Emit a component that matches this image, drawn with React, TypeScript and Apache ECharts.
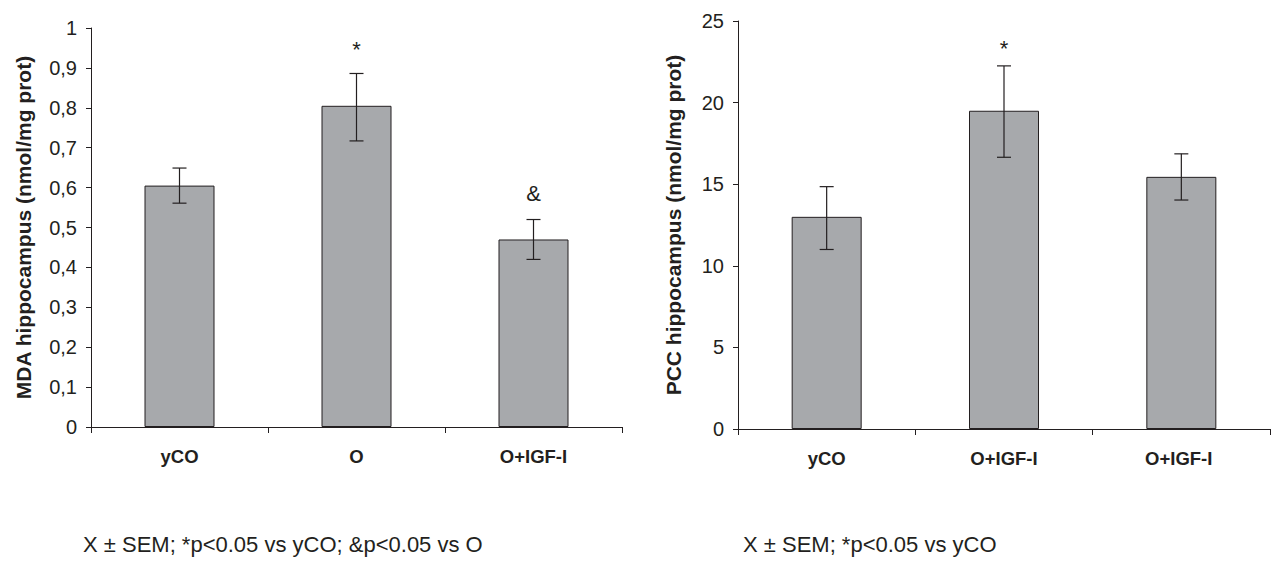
import React, { useEffect, useRef } from "react";
import * as echarts from "echarts";

const leftCategories = ["yCO", "O", "O+IGF-I"];
const leftMeans = [0.605, 0.805, 0.47];
const leftLow = [0.561, 0.717, 0.42];
const leftHigh = [0.649, 0.886, 0.52];
const leftMarks = ["", "*", "&"];
const leftMarkValues = [0, 0.947, 0.586];
const leftTicks = ["0", "0,1", "0,2", "0,3", "0,4", "0,5", "0,6", "0,7", "0,8", "0,9", "1"];

const rightCategories = ["yCO", "O+IGF-I", "O+IGF-I "];
const rightMeans = [13.0, 19.5, 15.45];
const rightLow = [11.0, 16.65, 14.03];
const rightHigh = [14.85, 22.25, 16.86];
const rightMarks = ["", "*", ""];
const rightMarkValues = [0, 23.3, 0];

const leftAxisName = "MDA hippocampus (nmol/mg prot)";
const rightAxisName = "PCC hippocampus (nmol/mg prot)";
const leftNote = "X ± SEM; *p<0.05 vs yCO; &p<0.05 vs O";
const rightNote = "X ± SEM; *p<0.05 vs yCO";

const INK = "#231f20";
const BAR = "#a7a9ac";
const FONT = "'Liberation Sans', Arial, sans-serif";

function errorRender(params: any, api: any) {
  const x = api.value(0);
  const lo = api.coord([x, api.value(1)]);
  const hi = api.coord([x, api.value(2)]);
  const half = 7;
  const style = { stroke: INK, lineWidth: 1.2 };
  return {
    type: "group",
    children: [
      { type: "line", shape: { x1: lo[0], y1: lo[1], x2: hi[0], y2: hi[1] }, style },
      { type: "line", shape: { x1: lo[0] - half, y1: lo[1], x2: lo[0] + half, y2: lo[1] }, style },
      { type: "line", shape: { x1: hi[0] - half, y1: hi[1], x2: hi[0] + half, y2: hi[1] }, style },
    ],
  };
}

function markRender(params: any, api: any) {
  const idx = params.dataIndex;
  const text = params.seriesIndex === 2 ? leftMarks[idx] : rightMarks[idx];
  if (!text) return null;
  const p = api.coord([api.value(0), api.value(1)]);
  return {
    type: "text",
    x: p[0],
    y: p[1],
    style: {
      text,
      fill: INK,
      font: `22px ${FONT}`,
      align: "center",
      verticalAlign: "middle",
    },
  };
}

export default function App() {
  const ref = useRef<HTMLDivElement>(null);
  useEffect(() => {
    if (!ref.current) return;
    const chart = echarts.init(ref.current, null, { renderer: "svg" });
    const axisLine = { show: true, lineStyle: { color: INK, width: 1 } };
    const yCommon = {
      type: "value",
      nameLocation: "middle",
      nameRotate: 90,
      nameTextStyle: { fontFamily: FONT, fontSize: 21, fontWeight: "bold", color: INK },
      axisLine,
      axisTick: { show: true, length: 5, lineStyle: { color: INK } },
      splitLine: { show: false },
      axisLabel: { fontFamily: FONT, fontSize: 20, color: INK, margin: 14 },
    };
    const xCommon = {
      type: "category",
      axisLine,
      axisTick: { show: true, length: 6, alignWithLabel: false, lineStyle: { color: INK } },
      axisLabel: { fontFamily: FONT, fontSize: 18.5, fontWeight: "bold", color: INK, margin: 20 },
    };
    chart.setOption({
      animation: false,
      backgroundColor: "#ffffff",
      grid: [
        { left: 91, top: 28, width: 531, height: 399 },
        { left: 738, top: 21, width: 532, height: 408 },
      ],
      xAxis: [
        { ...xCommon, gridIndex: 0, data: leftCategories },
        { ...xCommon, gridIndex: 1, data: rightCategories },
      ],
      yAxis: [
        {
          ...yCommon,
          gridIndex: 0,
          min: 0,
          max: 1,
          interval: 0.1,
          name: leftAxisName,
          nameGap: 57,
          axisLabel: {
            ...yCommon.axisLabel,
            formatter: (v: number) => leftTicks[Math.round(v * 10)],
          },
        },
        {
          ...yCommon,
          gridIndex: 1,
          min: 0,
          max: 25,
          interval: 5,
          name: rightAxisName,
          nameGap: 54,
        },
      ],
      series: [
        {
          type: "bar",
          xAxisIndex: 0,
          yAxisIndex: 0,
          data: leftMeans,
          barWidth: 70,
          itemStyle: { color: BAR, borderColor: INK, borderWidth: 1 },
        },
        {
          type: "custom",
          xAxisIndex: 0,
          yAxisIndex: 0,
          renderItem: errorRender,
          data: leftMeans.map((_, i) => [i, leftLow[i], leftHigh[i]]),
          z: 5,
        },
        {
          type: "custom",
          xAxisIndex: 0,
          yAxisIndex: 0,
          renderItem: markRender,
          data: leftMarkValues.map((v, i) => [i, v]),
          z: 6,
        },
        {
          type: "bar",
          xAxisIndex: 1,
          yAxisIndex: 1,
          data: rightMeans,
          barWidth: 70,
          itemStyle: { color: BAR, borderColor: INK, borderWidth: 1 },
        },
        {
          type: "custom",
          xAxisIndex: 1,
          yAxisIndex: 1,
          renderItem: errorRender,
          data: rightMeans.map((_, i) => [i, rightLow[i], rightHigh[i]]),
          z: 5,
        },
        {
          type: "custom",
          xAxisIndex: 1,
          yAxisIndex: 1,
          renderItem: markRender,
          data: rightMarkValues.map((v, i) => [i, v]),
          z: 6,
        },
      ],
      graphic: [
        {
          type: "text",
          left: 83,
          top: 533,
          style: { text: leftNote, fill: INK, font: `22px ${FONT}` },
        },
        {
          type: "text",
          left: 743,
          top: 533,
          style: { text: rightNote, fill: INK, font: `22px ${FONT}` },
        },
      ],
    });
    return () => chart.dispose();
  }, []);
  return (
    <div
      ref={ref}
      style={{ position: "fixed", left: 0, top: 0, width: 1275, height: 567, background: "#fff" }}
    />
  );
}
